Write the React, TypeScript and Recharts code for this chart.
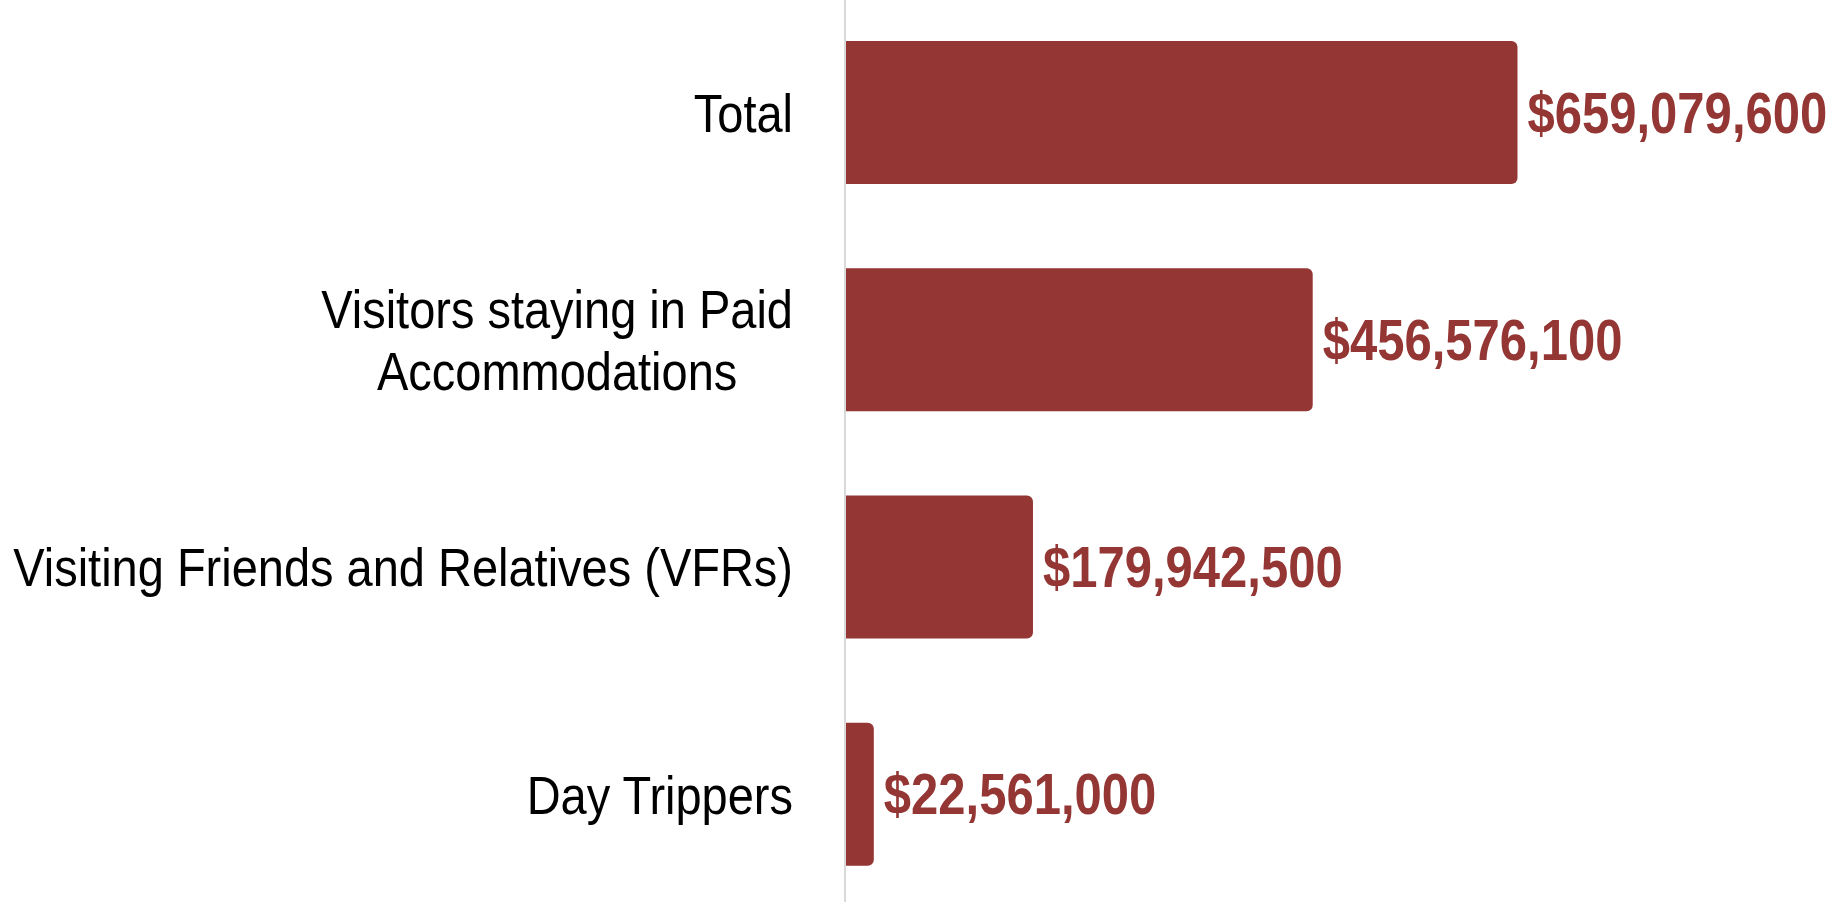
import { BarChart, Bar, XAxis, YAxis, LabelList, Rectangle } from "recharts";

const categories = [
  "Total",
  "Visitors staying in Paid Accommodations",
  "Visiting Friends and Relatives (VFRs)",
  "Day Trippers",
];
const spending = [659079600, 456576100, 179942500, 22561000];

const data = categories.map((name, i) => ({ name, value: spending[i] }));

// no Arial Narrow installed, so Liberation Sans gets squeezed horizontally
const FONT = "'Liberation Sans', Arial, sans-serif";
const BAR = "#943634";
const TICK_SIZE = 54;
const TICK_SX = 0.87;
const LABEL_SIZE = 57;
const LABEL_SX = 0.86;
const WRAP_WIDTH = 800;
const BAR_PAD = 6; // bars in the original run a few px past their value

const fmt = (v: number) => "$" + v.toLocaleString("en-US");

let ctx: CanvasRenderingContext2D | null = null;
function measure(s: string) {
  if (!ctx) ctx = document.createElement("canvas").getContext("2d");
  if (!ctx) return s.length * TICK_SIZE * 0.5 * TICK_SX;
  ctx.font = `${TICK_SIZE}px ${FONT}`;
  return ctx.measureText(s).width * TICK_SX;
}

function wrap(label: string) {
  const words = label.split(" ");
  const lines: string[] = [];
  let cur = "";
  words.forEach((w) => {
    const next = cur ? cur + " " + w : w;
    if (cur && measure(next) > WRAP_WIDTH) {
      lines.push(cur);
      cur = w;
    } else cur = next;
  });
  if (cur) lines.push(cur);
  return lines;
}

function CategoryTick({ x, y, payload }: any) {
  const lines = wrap(String(payload.value));
  const lh = 62;
  const top = -((lines.length - 1) * lh) / 2;
  const blockW = Math.max(...lines.map(measure)) / TICK_SX;
  const multi = lines.length > 1;
  return (
    <g transform={`translate(${x},${y}) scale(${TICK_SX},1)`}>
      <text
        textAnchor={multi ? "middle" : "end"}
        fontFamily={FONT}
        fontSize={TICK_SIZE}
        fill="#000"
      >
        {lines.map((l, i) => (
          <tspan key={i} x={multi ? -blockW / 2 : 0} y={top + i * lh} dy="0.355em">
            {l}
          </tspan>
        ))}
      </text>
    </g>
  );
}

function PaddedBar(props: any) {
  return <Rectangle {...props} width={props.width + BAR_PAD} />;
}

function ValueLabel({ x, y, width, height, value }: any) {
  const lx = Number(x) + Number(width) + BAR_PAD + 10;
  const ly = Number(y) + Number(height) / 2;
  return (
    <g transform={`translate(${lx},${ly}) scale(${LABEL_SX},1)`}>
      <text fontFamily={FONT} fontSize={LABEL_SIZE} fontWeight={700} fill={BAR} dy="0.355em">
        {fmt(Number(value))}
      </text>
    </g>
  );
}

export default function App() {
  return (
    <div style={{ position: "absolute", left: 0, top: 0, background: "#fff" }}>
      <BarChart
        width={1833}
        height={902}
        data={data}
        layout="vertical"
        margin={{ top: -1, right: 179, bottom: -6, left: 0 }}
      >
        <XAxis type="number" domain={[0, 800000000]} hide />
        <YAxis
          type="category"
          dataKey="name"
          width={845}
          axisLine={{ stroke: "#d9d9d9", strokeWidth: 2 }}
          tickLine={false}
          tickMargin={46}
          tick={<CategoryTick />}
          interval={0}
        />
        <Bar
          dataKey="value"
          fill={BAR}
          barSize={143}
          radius={[0, 6, 6, 0]}
          shape={<PaddedBar />}
          isAnimationActive={false}
        >
          <LabelList dataKey="value" content={<ValueLabel />} />
        </Bar>
      </BarChart>
    </div>
  );
}
